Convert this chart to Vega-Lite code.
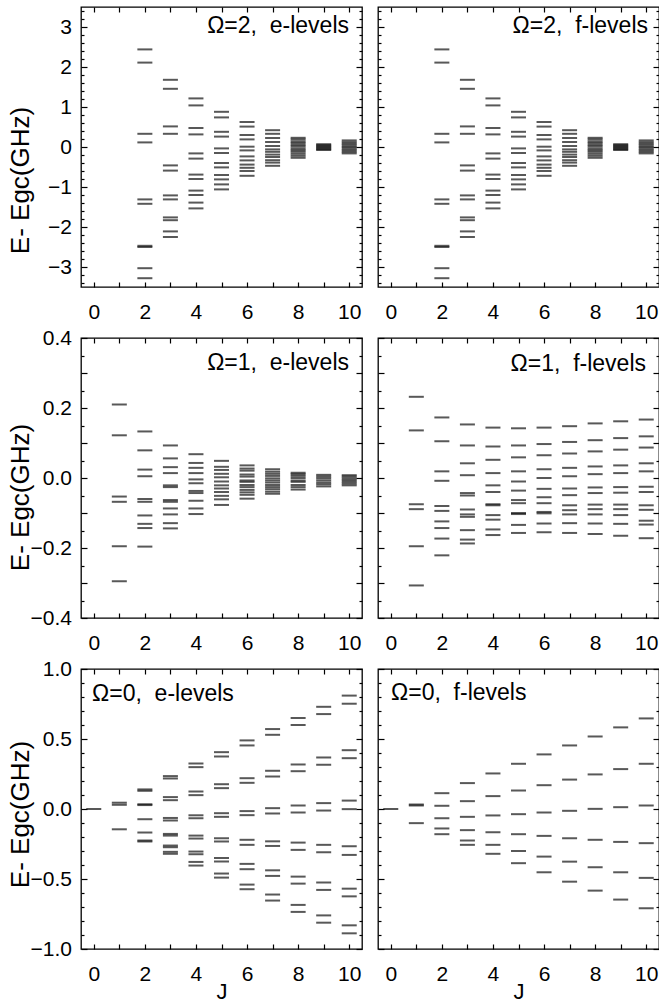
{
  "$schema": "https://vega.github.io/schema/vega-lite/v6.json",
  "padding": {"left": 6, "top": 5, "right": 0, "bottom": 5},
  "config": {
    "font": "Liberation Sans",
    "view": {"stroke": "#000", "strokeWidth": 1.3},
    "axis": {"domain": false, "grid": false, "labelFontSize": 21, "labelColor": "#000", "tickColor": "#000", "tickWidth": 1.2, "labelOverlap": false, "labelFlush": false, "titleFontWeight": "normal", "titleFontSize": 22, "titleColor": "#000"},
    "title": {"fontSize": 23, "fontWeight": "normal", "color": "#000", "frame": "group"},
    "tick": {"orient": "horizontal", "size": 15, "thickness": 2, "color": "#111"}
  },
  "datasets": {
    "o2e": [
      {"J":2,"E":2.44},{"J":2,"E":2.11},{"J":2,"E":0.33},{"J":2,"E":0.115},{"J":2,"E":-1.31},{"J":2,"E":-1.42},{"J":2,"E":-2.47},{"J":2,"E":-2.5},{"J":2,"E":-3.03},{"J":2,"E":-3.28},
      {"J":3,"E":1.68},{"J":3,"E":1.455},{"J":3,"E":0.515},{"J":3,"E":0.33},{"J":3,"E":-0.46},{"J":3,"E":-0.59},{"J":3,"E":-1.21},{"J":3,"E":-1.31},{"J":3,"E":-1.76},{"J":3,"E":-1.83},{"J":3,"E":-2.11},{"J":3,"E":-2.25},
      {"J":4,"E":1.215},{"J":4,"E":1.04},{"J":4,"E":0.475},{"J":4,"E":0.315},{"J":4,"E":-0.16},{"J":4,"E":-0.29},{"J":4,"E":-0.69},{"J":4,"E":-0.8},{"J":4,"E":-1.09},{"J":4,"E":-1.2},{"J":4,"E":-1.39},{"J":4,"E":-1.535},
      {"J":5,"E":0.88},{"J":5,"E":0.74},{"J":5,"E":0.38},{"J":5,"E":0.26},{"J":5,"E":-0.035},{"J":5,"E":-0.15},{"J":5,"E":-0.4},{"J":5,"E":-0.51},{"J":5,"E":-0.7},{"J":5,"E":-0.81},{"J":5,"E":-0.935},{"J":5,"E":-1.06},
      {"J":6,"E":0.625},{"J":6,"E":0.51},{"J":6,"E":0.3},{"J":6,"E":0.19},{"J":6,"E":0.008},{"J":6,"E":-0.085},{"J":6,"E":-0.235},{"J":6,"E":-0.335},{"J":6,"E":-0.44},{"J":6,"E":-0.52},{"J":6,"E":-0.6},{"J":6,"E":-0.72},
      {"J":7,"E":0.42},{"J":7,"E":0.33},{"J":7,"E":0.225},{"J":7,"E":0.125},{"J":7,"E":0.025},{"J":7,"E":-0.06},{"J":7,"E":-0.12},{"J":7,"E":-0.19},{"J":7,"E":-0.25},{"J":7,"E":-0.33},{"J":7,"E":-0.39},{"J":7,"E":-0.47},
      {"J":8,"E":0.23},{"J":8,"E":0.19},{"J":8,"E":0.14},{"J":8,"E":0.1},{"J":8,"E":0.05},{"J":8,"E":0.01},{"J":8,"E":-0.04},{"J":8,"E":-0.08},{"J":8,"E":-0.12},{"J":8,"E":-0.17},{"J":8,"E":-0.22},{"J":8,"E":-0.27},
      {"J":9,"E":0.07},{"J":9,"E":0.045},{"J":9,"E":0.02},{"J":9,"E":-0.005},{"J":9,"E":-0.03},{"J":9,"E":-0.055},{"J":9,"E":-0.075},
      {"J":10,"E":0.165},{"J":10,"E":0.12},{"J":10,"E":0.08},{"J":10,"E":0.04},{"J":10,"E":0.0},{"J":10,"E":-0.04},{"J":10,"E":-0.08},{"J":10,"E":-0.12},{"J":10,"E":-0.16}
    ],
    "o2f": [
      {"J":2,"E":2.44},{"J":2,"E":2.11},{"J":2,"E":0.33},{"J":2,"E":0.115},{"J":2,"E":-1.31},{"J":2,"E":-1.42},{"J":2,"E":-2.47},{"J":2,"E":-2.5},{"J":2,"E":-3.03},{"J":2,"E":-3.28},
      {"J":3,"E":1.68},{"J":3,"E":1.455},{"J":3,"E":0.515},{"J":3,"E":0.33},{"J":3,"E":-0.46},{"J":3,"E":-0.59},{"J":3,"E":-1.21},{"J":3,"E":-1.31},{"J":3,"E":-1.76},{"J":3,"E":-1.83},{"J":3,"E":-2.11},{"J":3,"E":-2.25},
      {"J":4,"E":1.215},{"J":4,"E":1.04},{"J":4,"E":0.475},{"J":4,"E":0.315},{"J":4,"E":-0.16},{"J":4,"E":-0.29},{"J":4,"E":-0.69},{"J":4,"E":-0.8},{"J":4,"E":-1.09},{"J":4,"E":-1.2},{"J":4,"E":-1.39},{"J":4,"E":-1.535},
      {"J":5,"E":0.88},{"J":5,"E":0.74},{"J":5,"E":0.38},{"J":5,"E":0.26},{"J":5,"E":-0.035},{"J":5,"E":-0.15},{"J":5,"E":-0.4},{"J":5,"E":-0.51},{"J":5,"E":-0.7},{"J":5,"E":-0.81},{"J":5,"E":-0.935},{"J":5,"E":-1.06},
      {"J":6,"E":0.625},{"J":6,"E":0.51},{"J":6,"E":0.3},{"J":6,"E":0.19},{"J":6,"E":0.008},{"J":6,"E":-0.085},{"J":6,"E":-0.235},{"J":6,"E":-0.335},{"J":6,"E":-0.44},{"J":6,"E":-0.52},{"J":6,"E":-0.6},{"J":6,"E":-0.72},
      {"J":7,"E":0.42},{"J":7,"E":0.33},{"J":7,"E":0.225},{"J":7,"E":0.125},{"J":7,"E":0.025},{"J":7,"E":-0.06},{"J":7,"E":-0.12},{"J":7,"E":-0.19},{"J":7,"E":-0.25},{"J":7,"E":-0.33},{"J":7,"E":-0.39},{"J":7,"E":-0.47},
      {"J":8,"E":0.23},{"J":8,"E":0.19},{"J":8,"E":0.14},{"J":8,"E":0.1},{"J":8,"E":0.05},{"J":8,"E":0.01},{"J":8,"E":-0.04},{"J":8,"E":-0.08},{"J":8,"E":-0.12},{"J":8,"E":-0.17},{"J":8,"E":-0.22},{"J":8,"E":-0.27},
      {"J":9,"E":0.07},{"J":9,"E":0.045},{"J":9,"E":0.02},{"J":9,"E":-0.005},{"J":9,"E":-0.03},{"J":9,"E":-0.055},{"J":9,"E":-0.075},
      {"J":10,"E":0.165},{"J":10,"E":0.12},{"J":10,"E":0.08},{"J":10,"E":0.04},{"J":10,"E":0.0},{"J":10,"E":-0.04},{"J":10,"E":-0.08},{"J":10,"E":-0.12},{"J":10,"E":-0.16}
    ],
    "o1e": [
      {"J":1,"E":0.21},{"J":1,"E":0.122},{"J":1,"E":-0.053},{"J":1,"E":-0.068},{"J":1,"E":-0.195},{"J":1,"E":-0.295},
      {"J":2,"E":0.133},{"J":2,"E":0.079},{"J":2,"E":0.024},{"J":2,"E":0.005},{"J":2,"E":-0.06},{"J":2,"E":-0.068},{"J":2,"E":-0.107},{"J":2,"E":-0.131},{"J":2,"E":-0.143},{"J":2,"E":-0.196},
      {"J":3,"E":0.093},{"J":3,"E":0.056},{"J":3,"E":0.031},{"J":3,"E":0.014},{"J":3,"E":-0.021},{"J":3,"E":-0.026},{"J":3,"E":-0.063},{"J":3,"E":-0.068},{"J":3,"E":-0.087},{"J":3,"E":-0.104},{"J":3,"E":-0.129},{"J":3,"E":-0.144},
      {"J":4,"E":0.068},{"J":4,"E":0.043},{"J":4,"E":0.029},{"J":4,"E":0.014},{"J":4,"E":-0.004},{"J":4,"E":-0.015},{"J":4,"E":-0.037},{"J":4,"E":-0.043},{"J":4,"E":-0.065},{"J":4,"E":-0.087},{"J":4,"E":-0.103},
      {"J":5,"E":0.049},{"J":5,"E":0.032},{"J":5,"E":0.023},{"J":5,"E":0.012},{"J":5,"E":0.002},{"J":5,"E":-0.01},{"J":5,"E":-0.021},{"J":5,"E":-0.03},{"J":5,"E":-0.04},{"J":5,"E":-0.051},{"J":5,"E":-0.061},{"J":5,"E":-0.077},
      {"J":6,"E":0.036},{"J":6,"E":0.027},{"J":6,"E":0.021},{"J":6,"E":0.01},{"J":6,"E":0.004},{"J":6,"E":-0.007},{"J":6,"E":-0.011},{"J":6,"E":-0.02},{"J":6,"E":-0.026},{"J":6,"E":-0.034},{"J":6,"E":-0.041},{"J":6,"E":-0.048},{"J":6,"E":-0.059},
      {"J":7,"E":0.025},{"J":7,"E":0.018},{"J":7,"E":0.012},{"J":7,"E":0.006},{"J":7,"E":-0.001},{"J":7,"E":-0.007},{"J":7,"E":-0.013},{"J":7,"E":-0.02},{"J":7,"E":-0.026},{"J":7,"E":-0.032},{"J":7,"E":-0.039},{"J":7,"E":-0.045},
      {"J":8,"E":0.015},{"J":8,"E":0.011},{"J":8,"E":0.006},{"J":8,"E":0.0},{"J":8,"E":-0.007},{"J":8,"E":-0.011},{"J":8,"E":-0.02},{"J":8,"E":-0.026},{"J":8,"E":-0.033},
      {"J":9,"E":0.009},{"J":9,"E":0.004},{"J":9,"E":-0.001},{"J":9,"E":-0.007},{"J":9,"E":-0.013},{"J":9,"E":-0.018},{"J":9,"E":-0.024},
      {"J":10,"E":0.008},{"J":10,"E":0.004},{"J":10,"E":-0.001},{"J":10,"E":-0.006},{"J":10,"E":-0.011},{"J":10,"E":-0.016},{"J":10,"E":-0.021}
    ],
    "o1f": [
      {"J":1,"E":0.232},{"J":1,"E":0.136},{"J":1,"E":-0.075},{"J":1,"E":-0.089},{"J":1,"E":-0.195},{"J":1,"E":-0.307},
      {"J":2,"E":0.173},{"J":2,"E":0.105},{"J":2,"E":0.019},{"J":2,"E":-0.008},{"J":2,"E":-0.08},{"J":2,"E":-0.094},{"J":2,"E":-0.124},{"J":2,"E":-0.143},{"J":2,"E":-0.173},{"J":2,"E":-0.221},
      {"J":3,"E":0.153},{"J":3,"E":0.093},{"J":3,"E":0.042},{"J":3,"E":0.008},{"J":3,"E":-0.043},{"J":3,"E":-0.05},{"J":3,"E":-0.09},{"J":3,"E":-0.104},{"J":3,"E":-0.111},{"J":3,"E":-0.149},{"J":3,"E":-0.176},{"J":3,"E":-0.187},
      {"J":4,"E":0.144},{"J":4,"E":0.09},{"J":4,"E":0.052},{"J":4,"E":0.014},{"J":4,"E":-0.021},{"J":4,"E":-0.04},{"J":4,"E":-0.075},{"J":4,"E":-0.078},{"J":4,"E":-0.106},{"J":4,"E":-0.119},{"J":4,"E":-0.147},{"J":4,"E":-0.163},
      {"J":5,"E":0.142},{"J":5,"E":0.093},{"J":5,"E":0.059},{"J":5,"E":0.019},{"J":5,"E":-0.01},{"J":5,"E":-0.036},{"J":5,"E":-0.063},{"J":5,"E":-0.072},{"J":5,"E":-0.1},{"J":5,"E":-0.103},{"J":5,"E":-0.134},{"J":5,"E":-0.157},
      {"J":6,"E":0.144},{"J":6,"E":0.097},{"J":6,"E":0.065},{"J":6,"E":0.025},{"J":6,"E":0.0},{"J":6,"E":-0.031},{"J":6,"E":-0.055},{"J":6,"E":-0.072},{"J":6,"E":-0.097},{"J":6,"E":-0.101},{"J":6,"E":-0.13},{"J":6,"E":-0.155},
      {"J":7,"E":0.148},{"J":7,"E":0.103},{"J":7,"E":0.07},{"J":7,"E":0.029},{"J":7,"E":0.005},{"J":7,"E":-0.03},{"J":7,"E":-0.049},{"J":7,"E":-0.078},{"J":7,"E":-0.092},{"J":7,"E":-0.104},{"J":7,"E":-0.129},{"J":7,"E":-0.157},
      {"J":8,"E":0.156},{"J":8,"E":0.108},{"J":8,"E":0.076},{"J":8,"E":0.033},{"J":8,"E":0.011},{"J":8,"E":-0.027},{"J":8,"E":-0.043},{"J":8,"E":-0.076},{"J":8,"E":-0.089},{"J":8,"E":-0.104},{"J":8,"E":-0.13},{"J":8,"E":-0.16},
      {"J":9,"E":0.162},{"J":9,"E":0.114},{"J":9,"E":0.081},{"J":9,"E":0.036},{"J":9,"E":0.014},{"J":9,"E":-0.026},{"J":9,"E":-0.042},{"J":9,"E":-0.076},{"J":9,"E":-0.089},{"J":9,"E":-0.106},{"J":9,"E":-0.131},{"J":9,"E":-0.165},
      {"J":10,"E":0.167},{"J":10,"E":0.119},{"J":10,"E":0.087},{"J":10,"E":0.042},{"J":10,"E":0.019},{"J":10,"E":-0.025},{"J":10,"E":-0.04},{"J":10,"E":-0.078},{"J":10,"E":-0.091},{"J":10,"E":-0.122},{"J":10,"E":-0.133},{"J":10,"E":-0.172}
    ],
    "o0e": [
      {"J":0,"E":0.0},
      {"J":1,"E":0.045},{"J":1,"E":0.03},{"J":1,"E":-0.145},
      {"J":2,"E":0.14},{"J":2,"E":0.13},{"J":2,"E":0.034},{"J":2,"E":0.028},{"J":2,"E":-0.073},{"J":2,"E":-0.168},{"J":2,"E":-0.225},{"J":2,"E":-0.232},
      {"J":3,"E":0.235},{"J":3,"E":0.218},{"J":3,"E":0.085},{"J":3,"E":0.063},{"J":3,"E":-0.064},{"J":3,"E":-0.082},{"J":3,"E":-0.178},{"J":3,"E":-0.19},{"J":3,"E":-0.261},{"J":3,"E":-0.273},{"J":3,"E":-0.306},{"J":3,"E":-0.32},
      {"J":4,"E":0.325},{"J":4,"E":0.299},{"J":4,"E":0.125},{"J":4,"E":0.099},{"J":4,"E":-0.045},{"J":4,"E":-0.066},{"J":4,"E":-0.19},{"J":4,"E":-0.211},{"J":4,"E":-0.304},{"J":4,"E":-0.323},{"J":4,"E":-0.378},{"J":4,"E":-0.404},
      {"J":5,"E":0.406},{"J":5,"E":0.375},{"J":5,"E":0.177},{"J":5,"E":0.149},{"J":5,"E":-0.03},{"J":5,"E":-0.056},{"J":5,"E":-0.209},{"J":5,"E":-0.232},{"J":5,"E":-0.35},{"J":5,"E":-0.375},{"J":5,"E":-0.461},{"J":5,"E":-0.49},
      {"J":6,"E":0.49},{"J":6,"E":0.454},{"J":6,"E":0.22},{"J":6,"E":0.187},{"J":6,"E":-0.015},{"J":6,"E":-0.044},{"J":6,"E":-0.22},{"J":6,"E":-0.256},{"J":6,"E":-0.392},{"J":6,"E":-0.43},{"J":6,"E":-0.54},{"J":6,"E":-0.573},
      {"J":7,"E":0.571},{"J":7,"E":0.53},{"J":7,"E":0.273},{"J":7,"E":0.232},{"J":7,"E":0.006},{"J":7,"E":-0.032},{"J":7,"E":-0.231},{"J":7,"E":-0.264},{"J":7,"E":-0.438},{"J":7,"E":-0.478},{"J":7,"E":-0.611},{"J":7,"E":-0.654},
      {"J":8,"E":0.65},{"J":8,"E":0.6},{"J":8,"E":0.318},{"J":8,"E":0.27},{"J":8,"E":0.025},{"J":8,"E":-0.025},{"J":8,"E":-0.24},{"J":8,"E":-0.292},{"J":8,"E":-0.483},{"J":8,"E":-0.533},{"J":8,"E":-0.685},{"J":8,"E":-0.735},
      {"J":9,"E":0.73},{"J":9,"E":0.678},{"J":9,"E":0.368},{"J":9,"E":0.316},{"J":9,"E":0.042},{"J":9,"E":-0.011},{"J":9,"E":-0.256},{"J":9,"E":-0.309},{"J":9,"E":-0.525},{"J":9,"E":-0.578},{"J":9,"E":-0.76},{"J":9,"E":-0.812},
      {"J":10,"E":0.81},{"J":10,"E":0.752},{"J":10,"E":0.42},{"J":10,"E":0.363},{"J":10,"E":0.06},{"J":10,"E":-0.001},{"J":10,"E":-0.266},{"J":10,"E":-0.328},{"J":10,"E":-0.569},{"J":10,"E":-0.624},{"J":10,"E":-0.831},{"J":10,"E":-0.888}
    ],
    "o0f": [
      {"J":0,"E":0.0},
      {"J":1,"E":0.032},{"J":1,"E":0.025},{"J":1,"E":-0.101},
      {"J":2,"E":0.113},{"J":2,"E":0.023},{"J":2,"E":-0.066},{"J":2,"E":-0.139},{"J":2,"E":-0.18},
      {"J":3,"E":0.185},{"J":3,"E":0.056},{"J":3,"E":-0.056},{"J":3,"E":-0.151},{"J":3,"E":-0.225},{"J":3,"E":-0.256},
      {"J":4,"E":0.254},{"J":4,"E":0.092},{"J":4,"E":-0.046},{"J":4,"E":-0.166},{"J":4,"E":-0.256},{"J":4,"E":-0.32},
      {"J":5,"E":0.323},{"J":5,"E":0.132},{"J":5,"E":-0.037},{"J":5,"E":-0.18},{"J":5,"E":-0.3},{"J":5,"E":-0.387},
      {"J":6,"E":0.39},{"J":6,"E":0.17},{"J":6,"E":-0.025},{"J":6,"E":-0.192},{"J":6,"E":-0.34},{"J":6,"E":-0.452},
      {"J":7,"E":0.454},{"J":7,"E":0.21},{"J":7,"E":-0.013},{"J":7,"E":-0.209},{"J":7,"E":-0.376},{"J":7,"E":-0.519},
      {"J":8,"E":0.518},{"J":8,"E":0.247},{"J":8,"E":0.001},{"J":8,"E":-0.22},{"J":8,"E":-0.416},{"J":8,"E":-0.583},
      {"J":9,"E":0.583},{"J":9,"E":0.285},{"J":9,"E":0.013},{"J":9,"E":-0.235},{"J":9,"E":-0.452},{"J":9,"E":-0.647},
      {"J":10,"E":0.647},{"J":10,"E":0.323},{"J":10,"E":0.025},{"J":10,"E":-0.244},{"J":10,"E":-0.492},{"J":10,"E":-0.709}
    ]
  },
  "columns": 2,
  "spacing": {"row": 51, "column": 16},
  "bounds": "flush",
  "concat": [
    {
      "width": 281, "height": 280,
      "data": {"name": "o2e"},
      "title": {"text": "Ω=2,\u00a0 e-levels", "anchor": "end", "dx": -13, "offset": -50, "baseline": "alphabetic"},
      "layer": [
        {"mark": "tick",
         "encoding": {
           "x": {"field": "J", "type": "quantitative", "scale": {"domain": [-0.5, 10.5], "nice": false, "zero": false},
                 "axis": {"orient": "bottom", "title": null, "values": [0,1,2,3,4,5,6,7,8,9,10], "labelExpr": "datum.value % 2 === 0 ? datum.label : ''", "tickSize": -5, "labelPadding": 19, "labelOverlap": false}},
           "y": {"field": "E", "type": "quantitative", "scale": {"domain": [-3.5, 3.5], "nice": false, "zero": false},
                 "axis": {"orient": "left", "title": "E- Egc(GHz)", "titleFontSize": 26, "titleX": -48, "titleY": 173, "labelOverlap": false,
                          "values": [-3.4,-3.2,-3,-2.8,-2.6,-2.4,-2.2,-2,-1.8,-1.6,-1.4,-1.2,-1,-0.8,-0.6,-0.4,-0.2,0,0.2,0.4,0.6,0.8,1,1.2,1.4,1.6,1.8,2,2.2,2.4,2.6,2.8,3,3.2,3.4],
                          "labelExpr": "abs(datum.value*5 - round(datum.value)*5) < 0.001 ? replace(toString(round(datum.value)), '-', '−') : ''",
                          "labelFontSize": {"condition": {"test": "abs(datum.value - round(datum.value)) < 1e-6", "value": 21}, "value": 1},
                          "tickSize": {"condition": {"test": "abs(datum.value - round(datum.value)) < 1e-6", "value": -6}, "value": -3},
                          "labelPadding": 15.5}}
         }},
        {"mark": {"type": "tick", "opacity": 0},
         "encoding": {
           "x": {"field": "J", "type": "quantitative", "axis": {"orient": "top", "title": null, "labels": false, "values": [0,1,2,3,4,5,6,7,8,9,10], "tickSize": -5}},
           "y": {"field": "E", "type": "quantitative",
                 "axis": {"orient": "right", "title": null, "labels": false,
                          "values": [-3.4,-3.2,-3,-2.8,-2.6,-2.4,-2.2,-2,-1.8,-1.6,-1.4,-1.2,-1,-0.8,-0.6,-0.4,-0.2,0,0.2,0.4,0.6,0.8,1,1.2,1.4,1.6,1.8,2,2.2,2.4,2.6,2.8,3,3.2,3.4],
                          "tickSize": {"condition": {"test": "abs(datum.value - round(datum.value)) < 1e-6", "value": -6}, "value": -3}}}
         }}
      ],
      "resolve": {"axis": {"x": "independent", "y": "independent"}}
    },
    {
      "width": 281, "height": 280,
      "data": {"name": "o2f"},
      "title": {"text": "Ω=2,\u00a0 f-levels", "anchor": "end", "dx": -11, "offset": -50, "baseline": "alphabetic"},
      "layer": [
        {"mark": "tick",
         "encoding": {
           "x": {"field": "J", "type": "quantitative", "scale": {"domain": [-0.5, 10.5], "nice": false, "zero": false},
                 "axis": {"orient": "bottom", "title": null, "values": [0,1,2,3,4,5,6,7,8,9,10], "labelExpr": "datum.value % 2 === 0 ? datum.label : ''", "tickSize": -5, "labelPadding": 19, "labelOverlap": false}},
           "y": {"field": "E", "type": "quantitative", "scale": {"domain": [-3.5, 3.5], "nice": false, "zero": false},
                 "axis": {"orient": "left", "title": null, "labels": false,
                          "values": [-3.4,-3.2,-3,-2.8,-2.6,-2.4,-2.2,-2,-1.8,-1.6,-1.4,-1.2,-1,-0.8,-0.6,-0.4,-0.2,0,0.2,0.4,0.6,0.8,1,1.2,1.4,1.6,1.8,2,2.2,2.4,2.6,2.8,3,3.2,3.4],
                          "tickSize": {"condition": {"test": "abs(datum.value - round(datum.value)) < 1e-6", "value": -6}, "value": -3}}}
         }},
        {"mark": {"type": "tick", "opacity": 0},
         "encoding": {
           "x": {"field": "J", "type": "quantitative", "axis": {"orient": "top", "title": null, "labels": false, "values": [0,1,2,3,4,5,6,7,8,9,10], "tickSize": -5}},
           "y": {"field": "E", "type": "quantitative",
                 "axis": {"orient": "right", "title": null, "labels": false,
                          "values": [-3.4,-3.2,-3,-2.8,-2.6,-2.4,-2.2,-2,-1.8,-1.6,-1.4,-1.2,-1,-0.8,-0.6,-0.4,-0.2,0,0.2,0.4,0.6,0.8,1,1.2,1.4,1.6,1.8,2,2.2,2.4,2.6,2.8,3,3.2,3.4],
                          "tickSize": {"condition": {"test": "abs(datum.value - round(datum.value)) < 1e-6", "value": -6}, "value": -3}}}
         }}
      ],
      "resolve": {"axis": {"x": "independent", "y": "independent"}}
    },
    {
      "width": 281, "height": 280,
      "data": {"name": "o1e"},
      "title": {"text": "Ω=1,\u00a0 e-levels", "anchor": "end", "dx": -13, "offset": -66, "baseline": "alphabetic"},
      "layer": [
        {"mark": "tick",
         "encoding": {
           "x": {"field": "J", "type": "quantitative", "scale": {"domain": [-0.5, 10.5], "nice": false, "zero": false},
                 "axis": {"orient": "bottom", "title": null, "values": [0,1,2,3,4,5,6,7,8,9,10], "labelExpr": "datum.value % 2 === 0 ? datum.label : ''", "tickSize": -5, "labelPadding": 19, "labelOverlap": false}},
           "y": {"field": "E", "type": "quantitative", "scale": {"domain": [-0.4, 0.4], "nice": false, "zero": false},
                 "axis": {"orient": "left", "title": "E- Egc(GHz)", "titleFontSize": 26, "titleX": -48, "titleY": 159, "format": ".1f", "labelOverlap": false,
                          "values": [-0.4,-0.35,-0.3,-0.25,-0.2,-0.15,-0.1,-0.05,0,0.05,0.1,0.15,0.2,0.25,0.3,0.35,0.4],
                          "labelExpr": "abs(datum.value/0.2 - round(datum.value/0.2)) < 1e-6 ? datum.label : ''",
                          "tickSize": {"condition": {"test": "abs(datum.value/0.1 - round(datum.value/0.1)) < 1e-6", "value": -6}, "value": -3},
                          "labelPadding": 15.5}}
         }},
        {"mark": {"type": "tick", "opacity": 0},
         "encoding": {
           "x": {"field": "J", "type": "quantitative", "axis": {"orient": "top", "title": null, "labels": false, "values": [0,1,2,3,4,5,6,7,8,9,10], "tickSize": -5}},
           "y": {"field": "E", "type": "quantitative",
                 "axis": {"orient": "right", "title": null, "labels": false,
                          "values": [-0.4,-0.35,-0.3,-0.25,-0.2,-0.15,-0.1,-0.05,0,0.05,0.1,0.15,0.2,0.25,0.3,0.35,0.4],
                          "tickSize": {"condition": {"test": "abs(datum.value/0.1 - round(datum.value/0.1)) < 1e-6", "value": -6}, "value": -3}}}
         }}
      ],
      "resolve": {"axis": {"x": "independent", "y": "independent"}}
    },
    {
      "width": 281, "height": 280,
      "data": {"name": "o1f"},
      "title": {"text": "Ω=1,\u00a0 f-levels", "anchor": "end", "dx": -13, "offset": -57, "baseline": "alphabetic"},
      "layer": [
        {"mark": "tick",
         "encoding": {
           "x": {"field": "J", "type": "quantitative", "scale": {"domain": [-0.5, 10.5], "nice": false, "zero": false},
                 "axis": {"orient": "bottom", "title": null, "values": [0,1,2,3,4,5,6,7,8,9,10], "labelExpr": "datum.value % 2 === 0 ? datum.label : ''", "tickSize": -5, "labelPadding": 19, "labelOverlap": false}},
           "y": {"field": "E", "type": "quantitative", "scale": {"domain": [-0.4, 0.4], "nice": false, "zero": false},
                 "axis": {"orient": "left", "title": null, "labels": false,
                          "values": [-0.4,-0.35,-0.3,-0.25,-0.2,-0.15,-0.1,-0.05,0,0.05,0.1,0.15,0.2,0.25,0.3,0.35,0.4],
                          "tickSize": {"condition": {"test": "abs(datum.value/0.1 - round(datum.value/0.1)) < 1e-6", "value": -6}, "value": -3}}}
         }},
        {"mark": {"type": "tick", "opacity": 0},
         "encoding": {
           "x": {"field": "J", "type": "quantitative", "axis": {"orient": "top", "title": null, "labels": false, "values": [0,1,2,3,4,5,6,7,8,9,10], "tickSize": -5}},
           "y": {"field": "E", "type": "quantitative",
                 "axis": {"orient": "right", "title": null, "labels": false,
                          "values": [-0.4,-0.35,-0.3,-0.25,-0.2,-0.15,-0.1,-0.05,0,0.05,0.1,0.15,0.2,0.25,0.3,0.35,0.4],
                          "tickSize": {"condition": {"test": "abs(datum.value/0.1 - round(datum.value/0.1)) < 1e-6", "value": -6}, "value": -3}}}
         }}
      ],
      "resolve": {"axis": {"x": "independent", "y": "independent"}}
    },
    {
      "width": 281, "height": 280,
      "data": {"name": "o0e"},
      "title": {"text": "Ω=0,\u00a0 e-levels", "anchor": "start", "dx": 11, "offset": -66, "baseline": "alphabetic"},
      "layer": [
        {"mark": "tick",
         "encoding": {
           "x": {"field": "J", "type": "quantitative", "scale": {"domain": [-0.5, 10.5], "nice": false, "zero": false},
                 "axis": {"orient": "bottom", "title": "J", "titlePadding": -3, "values": [0,1,2,3,4,5,6,7,8,9,10], "labelExpr": "datum.value % 2 === 0 ? datum.label : ''", "tickSize": -5, "labelPadding": 19, "labelOverlap": false}},
           "y": {"field": "E", "type": "quantitative", "scale": {"domain": [-1, 1], "nice": false, "zero": false},
                 "axis": {"orient": "left", "title": "E- Egc(GHz)", "titleFontSize": 26, "titleX": -48, "titleY": 145, "format": ".1f", "labelOverlap": false,
                          "values": [-1,-0.9,-0.8,-0.7,-0.6,-0.5,-0.4,-0.3,-0.2,-0.1,0,0.1,0.2,0.3,0.4,0.5,0.6,0.7,0.8,0.9,1],
                          "labelExpr": "abs(datum.value/0.5 - round(datum.value/0.5)) < 1e-6 ? datum.label : ''",
                          "tickSize": {"condition": {"test": "abs(datum.value/0.5 - round(datum.value/0.5)) < 1e-6", "value": -6}, "value": -3},
                          "labelPadding": 15.5}}
         }},
        {"mark": {"type": "tick", "opacity": 0},
         "encoding": {
           "x": {"field": "J", "type": "quantitative", "axis": {"orient": "top", "title": null, "labels": false, "values": [0,1,2,3,4,5,6,7,8,9,10], "tickSize": -5}},
           "y": {"field": "E", "type": "quantitative",
                 "axis": {"orient": "right", "title": null, "labels": false,
                          "values": [-1,-0.9,-0.8,-0.7,-0.6,-0.5,-0.4,-0.3,-0.2,-0.1,0,0.1,0.2,0.3,0.4,0.5,0.6,0.7,0.8,0.9,1],
                          "tickSize": {"condition": {"test": "abs(datum.value/0.5 - round(datum.value/0.5)) < 1e-6", "value": -6}, "value": -3}}}
         }}
      ],
      "resolve": {"axis": {"x": "independent", "y": "independent"}}
    },
    {
      "width": 281, "height": 280,
      "data": {"name": "o0f"},
      "title": {"text": "Ω=0,\u00a0 f-levels", "anchor": "start", "dx": 13, "offset": -55, "baseline": "alphabetic"},
      "layer": [
        {"mark": "tick",
         "encoding": {
           "x": {"field": "J", "type": "quantitative", "scale": {"domain": [-0.5, 10.5], "nice": false, "zero": false},
                 "axis": {"orient": "bottom", "title": "J", "titlePadding": -3, "values": [0,1,2,3,4,5,6,7,8,9,10], "labelExpr": "datum.value % 2 === 0 ? datum.label : ''", "tickSize": -5, "labelPadding": 19, "labelOverlap": false}},
           "y": {"field": "E", "type": "quantitative", "scale": {"domain": [-1, 1], "nice": false, "zero": false},
                 "axis": {"orient": "left", "title": null, "labels": false,
                          "values": [-1,-0.9,-0.8,-0.7,-0.6,-0.5,-0.4,-0.3,-0.2,-0.1,0,0.1,0.2,0.3,0.4,0.5,0.6,0.7,0.8,0.9,1],
                          "tickSize": {"condition": {"test": "abs(datum.value/0.5 - round(datum.value/0.5)) < 1e-6", "value": -6}, "value": -3}}}
         }},
        {"mark": {"type": "tick", "opacity": 0},
         "encoding": {
           "x": {"field": "J", "type": "quantitative", "axis": {"orient": "top", "title": null, "labels": false, "values": [0,1,2,3,4,5,6,7,8,9,10], "tickSize": -5}},
           "y": {"field": "E", "type": "quantitative",
                 "axis": {"orient": "right", "title": null, "labels": false,
                          "values": [-1,-0.9,-0.8,-0.7,-0.6,-0.5,-0.4,-0.3,-0.2,-0.1,0,0.1,0.2,0.3,0.4,0.5,0.6,0.7,0.8,0.9,1],
                          "tickSize": {"condition": {"test": "abs(datum.value/0.5 - round(datum.value/0.5)) < 1e-6", "value": -6}, "value": -3}}}
         }}
      ],
      "resolve": {"axis": {"x": "independent", "y": "independent"}}
    }
  ]
}
